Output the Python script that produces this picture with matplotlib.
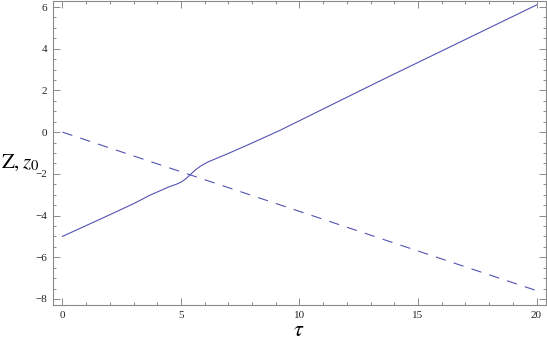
import matplotlib
matplotlib.use('Agg')
import matplotlib.pyplot as plt
from matplotlib.ticker import MultipleLocator

plt.rcParams['font.family'] = ['Liberation Serif', 'DejaVu Serif']
plt.rcParams['mathtext.fontset'] = 'stix'
plt.rcParams['lines.scale_dashes'] = False

# solid curve Z(tau)
tau = [0, 1, 2, 3, 3.7, 4.5, 4.8, 5.0, 5.2, 5.4, 5.6, 5.8, 6.1, 7, 8, 9.2, 13.4, 20]
Z = [-5.0, -4.48, -3.96, -3.43, -3.02, -2.62, -2.5, -2.4, -2.24, -2.03, -1.82, -1.65, -1.45,
     -1.02, -0.52, 0.1, 2.46, 6.1]

# dashed line z0(tau)
tau0 = [0, 20]
z0 = [0.0, -7.6]

LINE = '#5353b3'
FRAME = '#8a8a8a'

fig = plt.figure(figsize=(5.47, 3.47), dpi=100)
ax = fig.add_axes([52.5 / 547, 42 / 347, 493.5 / 547, 304 / 347])

ax.plot(tau, Z, color=LINE, lw=0.8)
ax.plot(tau0, z0, color=LINE, lw=0.8, linestyle=(0, (7.5, 6)))

ax.set_xlim(-0.42, 20.4)
ax.set_ylim(-8.29, 6.29)

ax.xaxis.set_major_locator(MultipleLocator(5))
ax.xaxis.set_minor_locator(MultipleLocator(1))
ax.yaxis.set_major_locator(MultipleLocator(2))
ax.yaxis.set_minor_locator(MultipleLocator(0.5))

for s in ax.spines.values():
    s.set_color(FRAME)
    s.set_linewidth(0.8)

ax.tick_params(which='both', direction='in', top=True, right=True,
               color=FRAME, width=0.7, labelsize=8, labelcolor='#222222')
ax.tick_params(which='major', length=5, pad=4)
ax.tick_params(which='minor', length=2.5)

ax.set_xticks([0, 5, 10, 15, 20])
ax.set_xticklabels(['0', '5', '10', '15', '20'])
ax.set_yticks([-8, -6, -4, -2, 0, 2, 4, 6])
ax.set_yticklabels(['\u22128', '\u22126', '\u22124', '\u22122', '0', '2', '4', '6'])

fig.text(20 / 547, 1 - 163 / 347, r'$\mathrm{Z},z_0$', fontsize=15,
         ha='center', va='center')
fig.text(299 / 547, 1 - 332 / 347, r'$\tau$', fontsize=16,
         ha='center', va='center')

fig.savefig('out.png', dpi=100)
